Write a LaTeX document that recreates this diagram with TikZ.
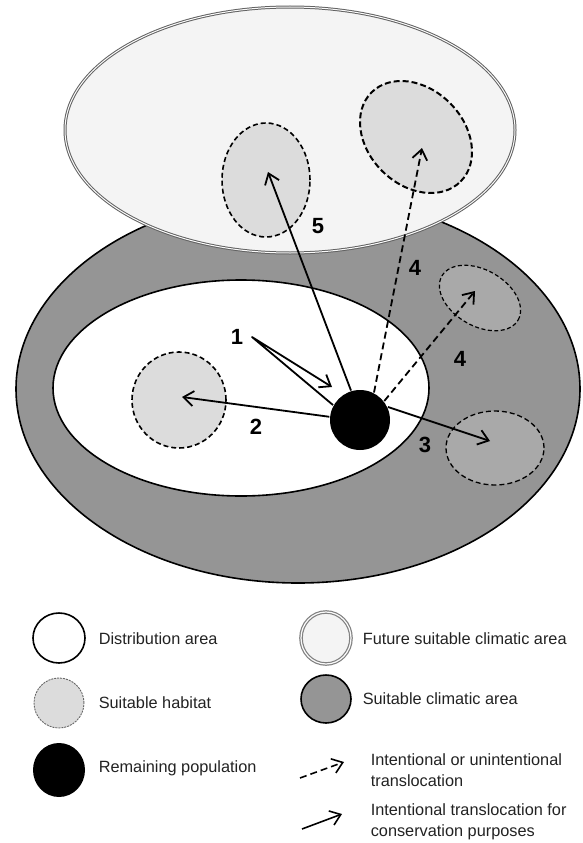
\documentclass[tikz,border=0pt]{standalone}
\usepackage{fontspec}
\setmainfont{Liberation Sans}
\usetikzlibrary{shapes.geometric,arrows.meta}

\definecolor{climgray}{HTML}{959595}
\definecolor{habgray}{HTML}{DCDCDC}
\definecolor{habdark}{HTML}{A9A9A9}
\definecolor{futfill}{HTML}{F4F4F4}
\definecolor{legink}{HTML}{222222}

\tikzset{
every picture/.style={
line width=1.6pt
},
zone/.style={ellipse, inner sep=0pt, draw=black, line width=1.6pt},
future/.style={ellipse, inner sep=0pt, fill=futfill, draw=black!62, double=futfill!50!white, double distance=1pt, line width=1pt},
habitat/.style={ellipse, inner sep=0pt, draw=black, line width=1.6pt, dash pattern=on 5pt off 3pt},
move/.style={-{Straight Barb[length=10pt,width=15pt]}, line width=1.8pt, line join=round},
movedash/.style={move, dash pattern=on 7pt off 4pt},
num/.style={font=\fontsize{22}{22}\selectfont\bfseries, inner sep=0pt},
legtext/.style={anchor=west, font=\fontsize{16.3}{20.5}\selectfont, text=legink, align=left, inner sep=0pt}
}

\begin{document}
\begin{tikzpicture}[x=1pt,y=-1pt]
  \useasboundingbox (0,0) rectangle (583,843);

  % areas
  \node[zone, fill=climgray, minimum width=564pt, minimum height=388pt] (clim) at (298,389) {};
  \node[zone, fill=white, minimum width=376pt, minimum height=216pt] (dist) at (241,388) {};
  \node[future, minimum width=450pt, minimum height=246pt] (fut) at (290,130) {};

  % suitable habitats
  \node[habitat, fill=habgray, minimum width=94pt, minimum height=96pt] (h2) at (179,400) {};
  \node[habitat, fill=habgray, minimum width=88pt, minimum height=114pt] (h5) at (266,180) {};
  \node[habitat, fill=habgray, minimum width=126pt, minimum height=96pt, rotate=-45, line width=2pt, dash pattern=on 6pt off 3pt] (h4a) at (416,137) {};
  \node[habitat, fill=habdark, minimum width=88pt, minimum height=56pt, rotate=-30, line width=1.2pt, dash pattern=on 4pt off 2.5pt] (h4b) at (480,298) {};
  \node[habitat, fill=habdark, minimum width=98pt, minimum height=74pt, line width=1.3pt] (h3) at (495,448) {};

  \node[circle, fill=black, minimum size=60pt, inner sep=0pt] (pop) at (360,420) {};

  % arrow ends
  \coordinate (v1) at (252,337);
  \coordinate (t1) at (332,387);
  \coordinate (t2) at (182,397);
  \coordinate (t3) at (490,441);
  \coordinate (t4a) at (422,148);
  \coordinate (t4b) at (475,291);
  \coordinate (t5) at (268,172);

  \draw[move] (pop.151) -- (v1) -- (t1);
  \draw[move] (pop.174) -- (t2);
  \draw[move] (pop.25) -- (t3);
  \draw[move] (pop.107) -- (t5);
  \draw[movedash] (pop.63) -- (t4a);
  \draw[movedash] (pop.38) -- (t4b);

  \node[num] (n1) at (237,337) {1};
  \node[num] (n2) at (256,427) {2};
  \node[num] (n3) at (425,445) {3};
  \node[num] (n4a) at (415,268) {4};
  \node[num] (n4b) at (460,359) {4};
  \node[num] (n5) at (318,226) {5};

  % legend
  \node[zone, fill=white, minimum width=52pt, minimum height=50pt] (kdist) at (59,638) {};
  \node[habitat, fill=habgray, draw=black!60, line width=0.9pt, dash pattern=on 2pt off 1pt, minimum width=50pt, minimum height=50pt] (khab) at (59,703) {};
  \node[ellipse, fill=black, inner sep=0pt, minimum width=52pt, minimum height=54pt] (kpop) at (59,770) {};
  \node[future, draw=black!50, line width=1.2pt, double distance=1.2pt, minimum width=50pt, minimum height=52pt] (kfut) at (326,638) {};
  \node[zone, fill=climgray, minimum width=50pt, minimum height=48pt] (kclim) at (326,699) {};

  \node[legtext] (ldist) at (98,639) {Distribution area};
  \node[legtext] (lhab) at (98,703) {Suitable habitat};
  \node[legtext] (lpop) at (98,768) {Remaining population};
  \node[legtext] (lfut) at (362,639) {Future suitable climatic area};
  \node[legtext] (lclim) at (362,699) {Suitable climatic area};
  \node[legtext] (ldash) at (370,770) {Intentional or unintentional\\translocation};
  \node[legtext] (lsolid) at (370,822) {Intentional translocation for\\conservation purposes};

  \coordinate (kd0) at (300,778);
  \coordinate (kd1) at (344,762);
  \coordinate (ks0) at (302,829);
  \coordinate (ks1) at (342,814);
  \draw[movedash, line width=1.6pt] (kd0) -- (kd1);
  \draw[move, line width=1.6pt] (ks0) -- (ks1);
\end{tikzpicture}
\end{document}
